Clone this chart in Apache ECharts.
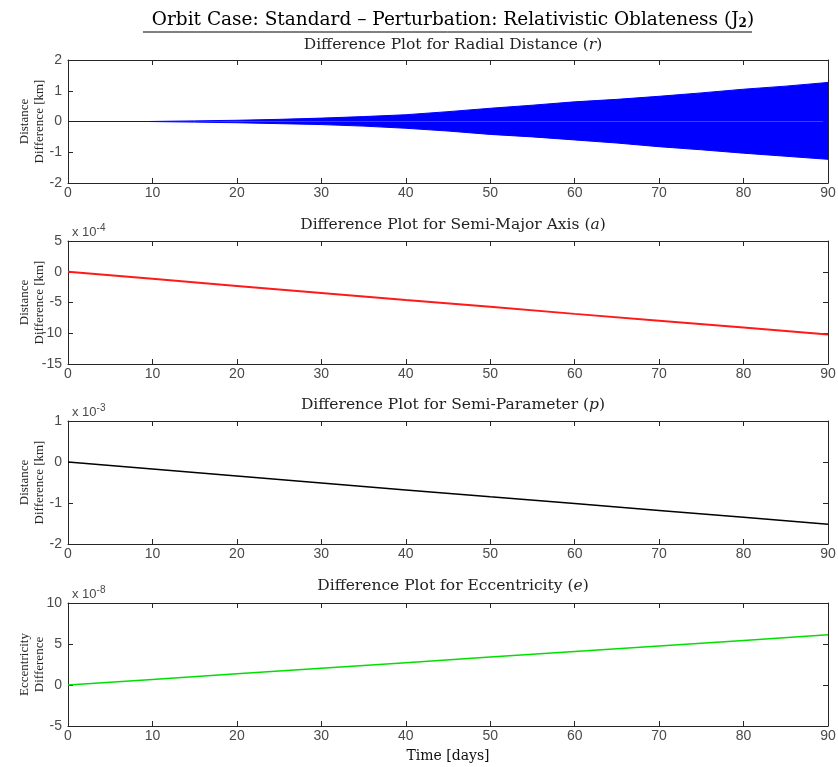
<!DOCTYPE html>
<html>
<head>
    <meta charset="utf-8">
    <title>Orbit Case: Standard</title>
    <script src="https://cdn.jsdelivr.net/npm/echarts@6/dist/echarts.min.js"></script>
    <style>
        html, body { margin: 0; padding: 0; background: #fff; }
        #main { width: 838px; height: 767px; }
    </style>
</head>
<body>
<div id="main"></div>
<script>
    // time in days
    var days = [0, 9.5, 15, 20, 25, 30, 35, 40, 45, 50, 55, 60, 65, 70, 75, 80, 85, 90];
    // radial distance difference envelope [km]
    var radialUpper = [0, 0, 0.02, 0.04, 0.07, 0.11, 0.16, 0.22, 0.32, 0.43, 0.53, 0.64, 0.72, 0.82, 0.93, 1.05, 1.15, 1.27];
    var radialLower = [0, 0, -0.02, -0.04, -0.07, -0.1, -0.15, -0.22, -0.31, -0.42, -0.5, -0.6, -0.7, -0.82, -0.92, -1.03, -1.13, -1.23];
    // semi-major axis difference [x 1e-4 km]
    var lineDays = [0, 10, 20, 30, 40, 50, 60, 70, 80, 90];
    var semiMajorDiff = [0, -1.15, -2.3, -3.45, -4.6, -5.7, -6.85, -7.95, -9.05, -10.2];
    // semi-parameter difference [x 1e-3 km]
    var semiParamDiff = [0, -0.17, -0.34, -0.51, -0.68, -0.85, -1.01, -1.18, -1.35, -1.52];
    // eccentricity difference [x 1e-8]
    var eccDiff = [0, 0.68, 1.36, 2.04, 2.72, 3.4, 4.08, 4.76, 5.44, 6.12];

    function pairs(xs, ys) {
        return xs.map(function (x, i) { return [x, ys[i]]; });
    }

    var tops = [60, 241, 421, 603];
    var plotH = 123;
    var axisColor = '#262626';
    var labelColor = '#4a4a4a';
    var serif = '"DejaVu Serif", "Liberation Serif", serif';
    var serif2 = '"Liberation Serif", "DejaVu Serif", serif';
    var sans = '"Liberation Sans", Arial, sans-serif';

    var yRanges = [
        {min: -2, max: 2, interval: 1},
        {min: -15, max: 5, interval: 5},
        {min: -2, max: 1, interval: 1},
        {min: -5, max: 10, interval: 5}
    ];
    var yNames = ['Distance\nDifference [km]', 'Distance\nDifference [km]', 'Distance\nDifference [km]', 'Eccentricity\nDifference'];

    var grids = [], xAxes = [], yAxes = [];
    tops.forEach(function (t, i) {
        grids.push({left: 68, right: 10, top: t, height: plotH, containLabel: false, outerBoundsMode: 'none'});
        // bottom x axis
        xAxes.push({
            type: 'value', gridIndex: i, min: 0, max: 90, interval: 10,
            axisLine: {show: true, onZero: false, lineStyle: {color: axisColor, width: 1}},
            axisTick: {show: true, inside: true, length: 5, lineStyle: {color: axisColor}},
            axisLabel: {color: labelColor, fontFamily: sans, fontSize: 14, margin: 3},
            splitLine: {show: false},
            name: i === 3 ? 'Time [days]' : '',
            nameLocation: 'middle', nameGap: 23,
            nameTextStyle: {color: '#111', fontFamily: serif, fontSize: 14}
        });
        // top x axis (box)
        xAxes.push({
            type: 'value', gridIndex: i, min: 0, max: 90, interval: 10, position: 'top',
            axisLine: {show: true, onZero: false, lineStyle: {color: axisColor, width: 1}},
            axisTick: {show: true, inside: true, length: 5, lineStyle: {color: axisColor}},
            axisLabel: {show: false}, splitLine: {show: false}
        });
        var r = yRanges[i];
        yAxes.push({
            type: 'value', gridIndex: i, min: r.min, max: r.max, interval: r.interval,
            axisLine: {show: true, onZero: false, lineStyle: {color: axisColor, width: 1}},
            axisTick: {show: true, inside: true, length: 5, lineStyle: {color: axisColor}},
            axisLabel: {color: labelColor, fontFamily: sans, fontSize: 14, margin: 6},
            splitLine: {show: false},
            name: yNames[i], nameLocation: 'middle', nameGap: 21, nameMoveOverlap: false,
            nameTextStyle: {color: '#222', fontFamily: serif2, fontSize: 13, lineHeight: 15}
        });
        yAxes.push({
            type: 'value', gridIndex: i, min: r.min, max: r.max, interval: r.interval, position: 'right',
            axisLine: {show: true, onZero: false, lineStyle: {color: axisColor, width: 1}},
            axisTick: {show: true, inside: true, length: 5, lineStyle: {color: axisColor}},
            axisLabel: {show: false}, splitLine: {show: false}
        });
    });

    var subTitles = [
        ['Difference Plot for Radial Distance (', 'r', ')'],
        ['Difference Plot for Semi-Major Axis (', 'a', ')'],
        ['Difference Plot for Semi-Parameter (', 'p', ')'],
        ['Difference Plot for Eccentricity (', 'e', ')']
    ];
    var subTitleTops = [32, 212, 392, 573];
    var titles = [{
        text: 'Orbit Case: Standard \u2013 Perturbation: Relativistic Oblateness (J{sub|2})',
        left: 448, top: 5, textAlign: 'center',
        textStyle: {
            fontFamily: serif, fontSize: 18.5, fontWeight: 'normal', color: '#000',
            rich: {sub: {fontFamily: serif, fontSize: 12, fontWeight: 'bold', verticalAlign: 'bottom', padding: [8, 0, 0, 0], color: '#000'}}
        }
    }];
    subTitles.forEach(function (s, i) {
        titles.push({
            text: s[0] + '{it|' + s[1] + '})',
            left: 448, top: subTitleTops[i], textAlign: 'center',
            textStyle: {
                fontFamily: serif, fontSize: 15.5, fontWeight: 'normal', color: '#222',
                rich: {it: {fontFamily: serif, fontSize: 15.5, fontStyle: 'italic', color: '#222'}}
            }
        });
    });
    var exps = ['-4', '-3', '-8'];
    exps.forEach(function (e, i) {
        titles.push({
            text: 'x 10{sup|' + e + '}',
            left: 67, top: tops[i + 1] - 23,
            textStyle: {
                fontFamily: sans, fontSize: 13, fontWeight: 'normal', color: labelColor,
                rich: {sup: {fontFamily: sans, fontSize: 10, verticalAlign: 'top', padding: [0, 0, 8, 0], color: labelColor}}
            }
        });
    });

    var chart = echarts.init(document.getElementById('main'));
    chart.setOption({
        backgroundColor: '#fff',
        animation: false,
        title: titles,
        grid: grids,
        xAxis: xAxes,
        yAxis: yAxes,
        graphic: [{
            type: 'line', shape: {x1: 143, y1: 32, x2: 752, y2: 32},
            style: {stroke: '#000', lineWidth: 1}
        }],
        series: [
            {
                type: 'line', xAxisIndex: 0, yAxisIndex: 0, data: pairs(days, radialUpper),
                showSymbol: false, lineStyle: {color: '#0000ff', width: 1},
                areaStyle: {color: '#0000ff', opacity: 1, origin: 0}
            },
            {
                type: 'line', xAxisIndex: 0, yAxisIndex: 0, data: pairs(days, radialLower),
                showSymbol: false, lineStyle: {color: '#0000ff', width: 1},
                areaStyle: {color: '#0000ff', opacity: 1, origin: 0}
            },
            {
                type: 'line', xAxisIndex: 2, yAxisIndex: 2, data: pairs(lineDays, semiMajorDiff),
                showSymbol: false, lineStyle: {color: '#ff1a1a', width: 2}
            },
            {
                type: 'line', xAxisIndex: 4, yAxisIndex: 4, data: pairs(lineDays, semiParamDiff),
                showSymbol: false, lineStyle: {color: '#000', width: 1.5}
            },
            {
                type: 'line', xAxisIndex: 6, yAxisIndex: 6, data: pairs(lineDays, eccDiff),
                showSymbol: false, lineStyle: {color: '#00e000', width: 1.5}
            }
        ]
    });
</script>
</body>
</html>
